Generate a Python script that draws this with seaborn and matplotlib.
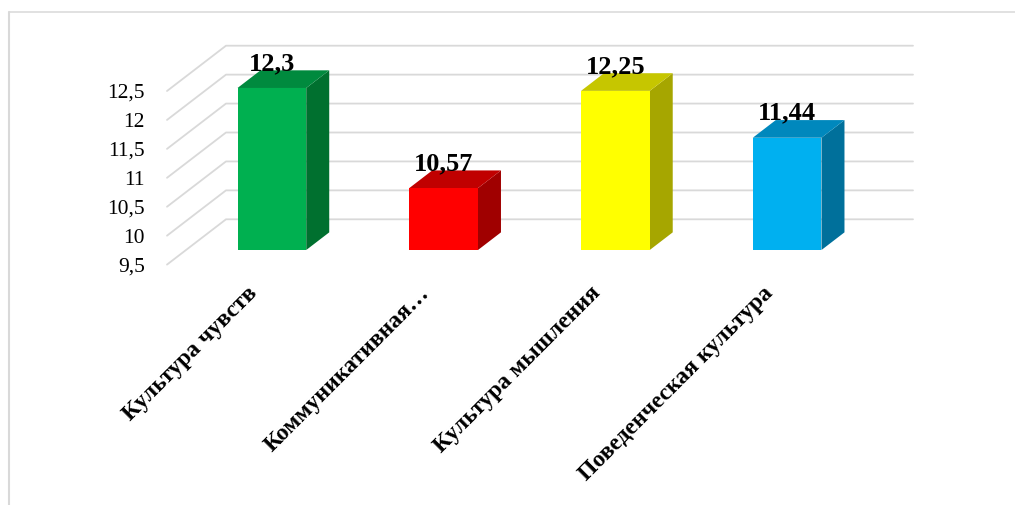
import numpy as np
import pandas as pd
import matplotlib
matplotlib.use("Agg")
import matplotlib.pyplot as plt
from matplotlib.patches import Polygon
from matplotlib.lines import Line2D
import matplotlib.transforms as mtransforms
import seaborn as sns

# --- data -------------------------------------------------------------
categories = ["Культура чувств", "Коммуникативная…", "Культура мышления", "Поведенческая культура"]
values = [12.3, 10.57, 12.25, 11.44]
value_labels = ["12,3", "10,57", "12,25", "11,44"]
yticks = [9.5, 10, 10.5, 11, 11.5, 12, 12.5]
ytick_labels = ["9,5", "10", "10,5", "11", "11,5", "12", "12,5"]

front_colors = ["#00B050", "#FF0000", "#FFFF00", "#00B0F0"]
top_colors = ["#008A3E", "#C00000", "#C6C600", "#0088BD"]
side_colors = ["#00702F", "#A00000", "#A6A600", "#00709B"]

# --- figure geometry --------------------------------------------------
W, H, DPI = 1015, 505, 100
sns.set_theme(style="white")
plt.rcParams["font.family"] = ["Liberation Serif", "DejaVu Serif"]

fig = plt.figure(figsize=(W / DPI, H / DPI), dpi=DPI)
fig.patch.set_facecolor("white")

# front plane of the 3-D box, in pixels
left_px, right_px, top_px, bottom_px = 167, 854, 91, 264.6
ax = fig.add_axes([left_px / W, 1 - bottom_px / H,
                   (right_px - left_px) / W, (bottom_px - top_px) / H])
ax.set_facecolor("none")

df = pd.DataFrame({"cat": categories, "val": values})
sns.barplot(data=df, x="cat", y="val", hue="cat", palette=front_colors,
            width=0.4, legend=False, ax=ax, saturation=1)

ax.set_xlim(-0.5, 3.5)
ax.set_ylim(yticks[0], yticks[-1])
for s in ax.spines.values():
    s.set_visible(False)

x_per_px = 4.0 / (right_px - left_px)
y_per_px = (yticks[-1] - yticks[0]) / (bottom_px - top_px)

# oblique depth of the box and of the bars
DEPTH_X, DEPTH_Y = 59 * x_per_px, 45.3 * y_per_px
f0, f1 = 19 / 59, 42 / 59
base = yticks[0]

# back wall and side wall gridlines
for v in yticks:
    ax.add_line(Line2D([-0.5, -0.5 + DEPTH_X, 3.5 + DEPTH_X],
                       [v, v + DEPTH_Y, v + DEPTH_Y],
                       color="#D9D9D9", lw=1.3, clip_on=False, zorder=0.5))

# turn the flat bars into oblique boxes
for i, patch in enumerate(ax.patches):
    val = patch.get_height()
    xl = patch.get_x() + f0 * DEPTH_X
    w = patch.get_width()
    xr = xl + w
    y0 = base + f0 * DEPTH_Y
    patch.set_x(xl)
    patch.set_y(y0)
    patch.set_height(val - base)
    patch.set_clip_on(False)
    patch.set_zorder(3)
    patch.set_linewidth(0)
    ddx, ddy = (f1 - f0) * DEPTH_X, (f1 - f0) * DEPTH_Y
    top = val + f0 * DEPTH_Y
    side = Polygon([(xr, y0), (xr + ddx, y0 + ddy), (xr + ddx, top + ddy), (xr, top)],
                   closed=True, facecolor=side_colors[i], edgecolor="none",
                   clip_on=False, zorder=2)
    lid = Polygon([(xl, top), (xr, top), (xr + ddx, top + ddy), (xl + ddx, top + ddy)],
                  closed=True, facecolor=top_colors[i], edgecolor="none",
                  clip_on=False, zorder=2)
    ax.add_patch(side)
    ax.add_patch(lid)
    ax.text(xl + w / 2, top + ddy + 0.3 * y_per_px, value_labels[i],
            ha="center", va="baseline", fontsize=19, fontweight="bold",
            color="black", clip_on=False, zorder=5)

# axes labels
ax.set_yticks(yticks)
ax.set_yticklabels(ytick_labels, fontsize=15.5, color="black")
ax.tick_params(axis="y", length=0, pad=16)
ax.set_xticks(range(len(categories)))
ax.set_xticklabels(categories, rotation=45, ha="right", rotation_mode="anchor",
                   fontsize=17, fontweight="bold", color="black")
ax.tick_params(axis="x", length=0, pad=13)
shift = mtransforms.ScaledTranslation(-6 / DPI, 0, fig.dpi_scale_trans)
for lab in ax.get_xticklabels():
    lab.set_transform(lab.get_transform() + shift)
ax.set_xlabel("")
ax.set_ylabel("")
ax.grid(False)

# chart area border
fig.add_artist(Line2D([8.5 / W, 1.0], [1 - 11.5 / H, 1 - 11.5 / H],
                      transform=fig.transFigure, color="#D9D9D9", lw=1.1))
fig.add_artist(Line2D([8.5 / W, 8.5 / W], [1 - 11.5 / H, 0.0],
                      transform=fig.transFigure, color="#D9D9D9", lw=1.5))

fig.savefig("out.png", dpi=DPI)
